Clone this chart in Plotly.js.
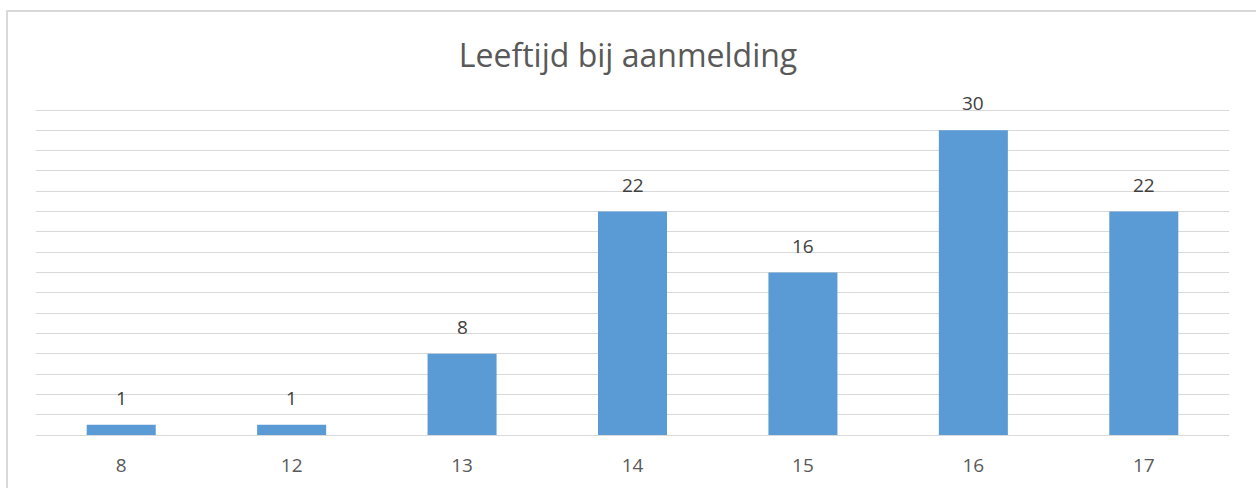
<!DOCTYPE html>
<html>
<head>
<meta charset="utf-8">
<script src="https://cdn.plot.ly/plotly-3.0.1.min.js"></script>
<style>html,body{margin:0;padding:0;background:#fff;overflow:hidden}#chart{width:1256px;height:488px}</style>
</head>
<body>
<div id="chart"></div>
<script>
const categories = ["8", "12", "13", "14", "15", "16", "17"];
const counts = [1, 1, 8, 22, 16, 30, 22];
const chartTitle = "Leeftijd bij aanmelding";

const fontFam = "Open Sans, Noto Sans, sans-serif";

const trace = {
  type: "bar",
  x: categories,
  y: counts,
  marker: {color: "#5b9bd5"},
  hoverinfo: "x+y"
};

const annotations = categories.map((c, i) => ({
  x: i, y: counts[i], xref: "x", yref: "y",
  text: String(counts[i]),
  showarrow: false,
  yanchor: "bottom",
  yshift: 12,
  font: {family: fontFam, size: 19, color: "#404040"}
}));

const layout = {
  width: 1256, height: 488,
  margin: {l: 36, r: 27, t: 107, b: 53},
  paper_bgcolor: "#fff", plot_bgcolor: "#fff",
  bargap: 0.595,
  showlegend: false,
  title: {
    text: chartTitle,
    font: {family: fontFam, size: 32, color: "#595959"},
    x: 0.5, xanchor: "center",
    y: 0.885, yanchor: "middle"
  },
  xaxis: {
    type: "category",
    range: [-0.5, categories.length - 0.5],
    showgrid: false, zeroline: false,
    showline: true, linecolor: "#d9d9d9", linewidth: 1,
    ticks: "",
    tickfont: {family: fontFam, size: 19, color: "#595959"},
    ticklabelstandoff: 13
  },
  yaxis: {
    range: [0, 32.3], tick0: 0, dtick: 2,
    showgrid: true, gridcolor: "#d9d9d9", gridwidth: 1,
    zeroline: false, showticklabels: false, ticks: "",
    fixedrange: true
  },
  annotations: annotations,
  shapes: [{
    type: "rect", xref: "paper", yref: "paper",
    x0: -0.0243, x1: 1.2, y0: -0.5, y1: 1.293,
    line: {color: "#d9d9d9", width: 2}, fillcolor: "rgba(0,0,0,0)", layer: "below"
  }]
};

Plotly.newPlot("chart", [trace], layout, {displayModeBar: false, staticPlot: true});
</script>
</body>
</html>
